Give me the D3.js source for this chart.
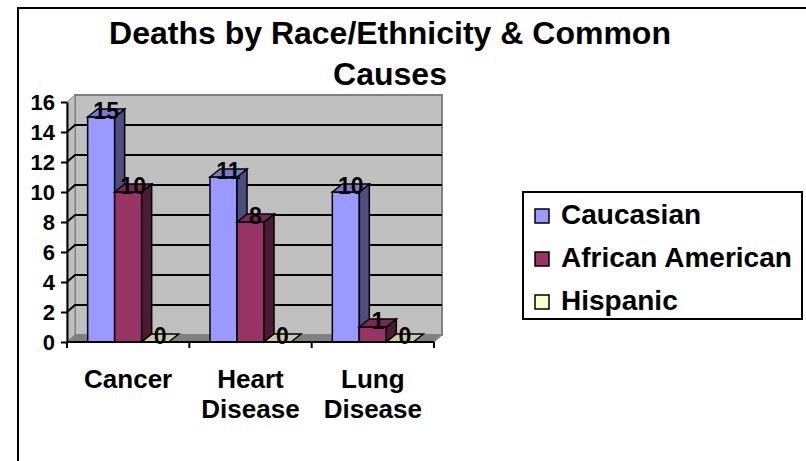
<!DOCTYPE html>
<html>
<head>
<meta charset="utf-8">
<script src="https://cdn.jsdelivr.net/npm/d3@7"></script>
<style>
  body { margin: 0; background: #fff; }
  text { font-family: Arial, "Liberation Sans", sans-serif; font-weight: bold; fill: #000; }
</style>
</head>
<body>
<script>
// chart data
var categories = ["Cancer", "Heart Disease", "Lung Disease"];
var seriesNames = ["Caucasian", "African American", "Hispanic"];
var caucasian = [15, 11, 10];
var africanAmerican = [10, 8, 1];
var hispanic = [0, 0, 0];
var yTicks = [0, 2, 4, 6, 8, 10, 12, 14, 16];

var seriesValues = [caucasian, africanAmerican, hispanic];
var frontColors = ["#9999ff", "#993366", "#ffffcc"];

var width = 806, height = 461;
var wdx = 8, wdy = 7;     // wall depth
var bdx = 10, bdy = 8;    // bar depth

var svg = d3.select('body').append('svg')
    .attr('width', width)
    .attr('height', height);

// outer chart frame (runs off the right and bottom)
svg.append('rect')
    .attr('x', 18).attr('y', 8)
    .attr('width', 1000).attr('height', 1000)
    .attr('fill', 'none')
    .attr('stroke', '#000')
    .attr('stroke-width', 2);

// title
svg.append('text')
    .attr('x', 390).attr('y', 44)
    .attr('text-anchor', 'middle')
    .style('font-size', '32px')
    .text('Deaths by Race/Ethnicity & Common');
svg.append('text')
    .attr('x', 390).attr('y', 85)
    .attr('text-anchor', 'middle')
    .style('font-size', '32px')
    .text('Causes');

var y = d3.scaleLinear().domain([0, 16]).range([342, 102]);
var x = d3.scaleBand().domain(categories).range([67, 434]);
var xs = d3.scaleBand().domain(seriesNames)
    .range([0, x.bandwidth()])
    .paddingInner(0)
    .paddingOuter(0.765);

var x0 = x.range()[0], x1 = x.range()[1];

function poly(pts) {
    return pts.map(function(p) {return p.join(',');}).join(' ');
}

// back wall
svg.append('polygon')
    .attr('points', poly([[x0 + wdx, y(16) - wdy], [x1 + wdx, y(16) - wdy],
                          [x1 + wdx, y(0) - wdy], [x0 + wdx, y(0) - wdy]]))
    .attr('fill', '#c0c0c0')
    .attr('stroke', '#808080')
    .attr('stroke-width', 2);

// side wall
svg.append('polygon')
    .attr('points', poly([[x0, y(16)], [x0 + wdx, y(16) - wdy],
                          [x0 + wdx, y(0) - wdy], [x0, y(0)]]))
    .attr('fill', '#c0c0c0')
    .attr('stroke', '#808080')
    .attr('stroke-width', 1);

// floor
svg.append('polygon')
    .attr('points', poly([[x0, y(0)], [x0 + wdx, y(0) - wdy],
                          [x1 + wdx, y(0) - wdy], [x1, y(0)]]))
    .attr('fill', '#808080')
    .attr('stroke', '#808080')
    .attr('stroke-width', 1);

// gridlines on wall
var grid = svg.append('g');
grid.selectAll('polyline')
    .data(yTicks.filter(function(d) {return d > 0 && d < 16;}))
    .enter()
    .append('polyline')
    .attr('points', function(d) {
        return poly([[x0, y(d)], [x0 + wdx, y(d) - wdy], [x1 + wdx, y(d) - wdy]]);
    })
    .attr('fill', 'none')
    .attr('stroke', '#000')
    .attr('stroke-width', 2);

// y axis
var yAxis = svg.append('g')
    .attr('transform', 'translate(' + x0 + ',0)')
    .call(d3.axisLeft(y).tickValues(yTicks).tickSize(6).tickSizeOuter(0).tickPadding(6));
yAxis.select('.domain').attr('stroke', '#000').attr('stroke-width', 2);
yAxis.selectAll('.tick line').attr('stroke', '#000').attr('stroke-width', 2);
yAxis.selectAll('.tick text')
    .style('font-size', '22px')
    .style('font-family', 'Arial, "Liberation Sans", sans-serif')
    .style('font-weight', 'bold')
    .attr('fill', '#000');

// bars
var bars = [];
categories.forEach(function(c, ci) {
    seriesNames.forEach(function(s, si) {
        bars.push({cat: c, series: s, si: si, value: seriesValues[si][ci]});
    });
});

function shade(col, k) {
    var c = d3.rgb(col);
    return d3.rgb(c.r * k, c.g * k, c.b * k);
}

var barG = svg.append('g').selectAll('g')
    .data(bars)
    .enter()
    .append('g');

barG.each(function(d) {
    var g = d3.select(this);
    var bx0 = x(d.cat) + xs(d.series);
    var bx1 = bx0 + xs.bandwidth();
    var top = y(d.value), base = y(0);
    var col = frontColors[d.si];
    if (d.value > 0) {
        g.append('rect')
            .attr('x', bx0).attr('y', top)
            .attr('width', bx1 - bx0).attr('height', base - top)
            .attr('fill', col)
            .attr('stroke', '#000').attr('stroke-width', 1.5);
        g.append('polygon')
            .attr('points', poly([[bx1, top], [bx1 + bdx, top - bdy], [bx1 + bdx, base - bdy], [bx1, base]]))
            .attr('fill', shade(col, 0.5))
            .attr('stroke', '#000').attr('stroke-width', 1.5);
    }
    g.append('polygon')
        .attr('points', poly([[bx0, top], [bx0 + bdx, top - bdy], [bx1 + bdx, top - bdy], [bx1, top]]))
        .attr('fill', shade(col, 0.8))
        .attr('stroke', '#000').attr('stroke-width', 1.5);
});

// x axis line and boundary ticks
svg.append('line')
    .attr('x1', x0).attr('x2', x1)
    .attr('y1', y(0)).attr('y2', y(0))
    .attr('stroke', '#000').attr('stroke-width', 2);
var bounds = categories.map(function(c) {return x(c);}).concat([x1]);
svg.append('g').selectAll('line')
    .data(bounds)
    .enter()
    .append('line')
    .attr('x1', function(d) {return d;}).attr('x2', function(d) {return d;})
    .attr('y1', y(0)).attr('y2', y(0) + 6)
    .attr('stroke', '#000').attr('stroke-width', 2);

// data labels
svg.append('g').selectAll('text')
    .data(bars)
    .enter()
    .append('text')
    .attr('x', function(d) {return x(d.cat) + xs(d.series) + xs.bandwidth() / 2 + bdx / 2;})
    .attr('y', function(d) {return y(d.value) + 2;})
    .attr('text-anchor', 'middle')
    .style('font-size', '23px')
    .text(function(d) {return d.value;});

// category labels
var catText = svg.append('g').selectAll('text')
    .data(categories)
    .enter()
    .append('text')
    .attr('text-anchor', 'middle')
    .style('font-size', '26px');
catText.selectAll('tspan')
    .data(function(d) {
        var cx = x(d) + x.bandwidth() / 2;
        return d.split(' ').map(function(w, i) {return {w: w, cx: cx, i: i};});
    })
    .enter()
    .append('tspan')
    .attr('x', function(d) {return d.cx;})
    .attr('y', function(d) {return 388 + d.i * 30;})
    .text(function(d) {return d.w;});

// legend
var legend = svg.append('g');
legend.append('rect')
    .attr('x', 523).attr('y', 192)
    .attr('width', 279).attr('height', 127)
    .attr('fill', '#fff')
    .attr('stroke', '#000').attr('stroke-width', 2);
var item = legend.selectAll('g.item')
    .data(seriesNames)
    .enter()
    .append('g')
    .attr('class', 'item')
    .attr('transform', function(d, i) {return 'translate(0,' + (224 + i * 43) + ')';});
item.append('rect')
    .attr('x', 535).attr('y', -15)
    .attr('width', 14).attr('height', 14)
    .attr('fill', function(d, i) {return frontColors[i];})
    .attr('stroke', '#000').attr('stroke-width', 1.5);
item.append('text')
    .attr('x', 561).attr('y', 0)
    .style('font-size', '28px')
    .text(function(d) {return d;});
</script>
</body>
</html>
